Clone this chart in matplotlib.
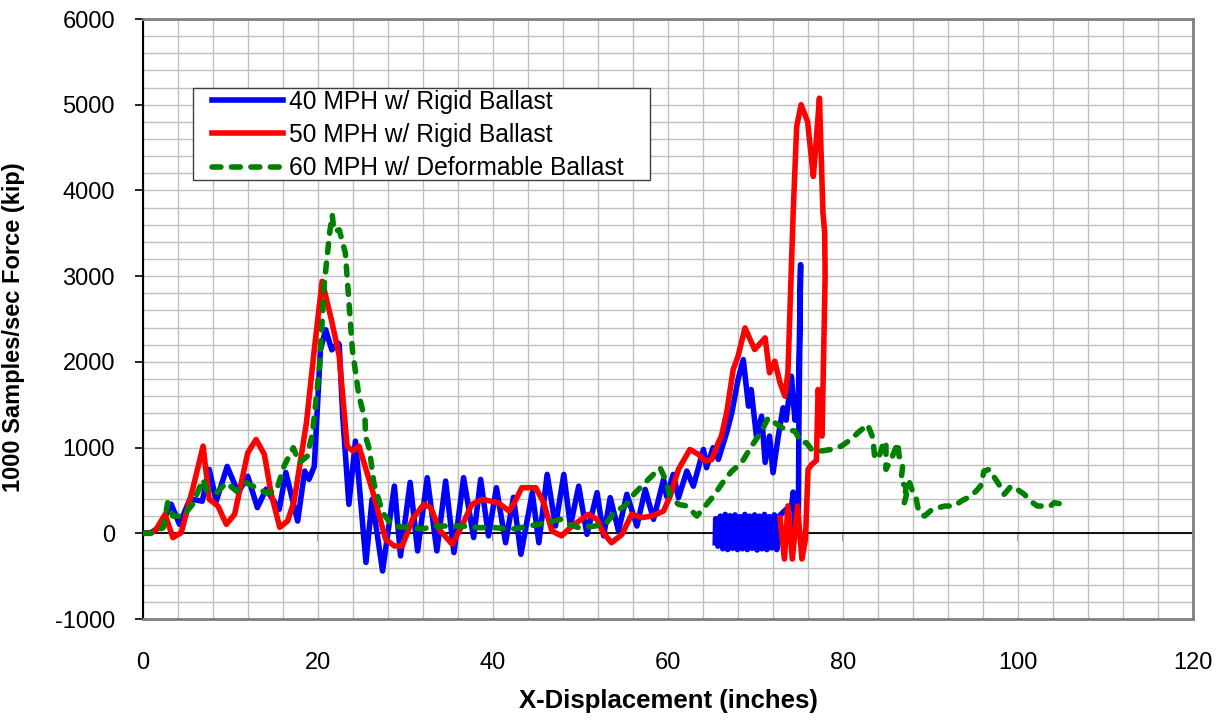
import matplotlib
matplotlib.use('Agg')
import matplotlib.pyplot as plt
from matplotlib.patches import Rectangle
import numpy as np

plt.rcParams['font.family'] = ['Liberation Sans', 'DejaVu Sans']
plt.rcParams['axes.unicode_minus'] = False

# 40 MPH w/ Rigid Ballast
x40 = [0, 1.0, 2.0, 3.25, 4.2, 5.4, 6.8, 7.6, 8.4, 9.65, 10.9, 12.0, 13.1, 14.1, 15.6, 16.35,
       17.7, 18.5, 19.0, 19.6, 20.3, 20.9, 21.6, 22.3, 22.45, 22.85, 23.55, 24.3, 25.5, 26.2,
       27.4, 28.75, 29.45, 30.55, 31.4, 32.5, 33.6, 34.6, 35.55, 36.65, 37.8, 38.6, 39.5,
       40.4, 41.45, 42.35, 43.2, 44.5, 45.25, 46.2, 47.15, 48.1, 48.85, 49.8, 50.75, 51.9,
       52.65, 53.4, 54.35, 55.3, 56.45, 57.4, 58.35, 59.5, 59.85, 60.6, 61.2, 62.15, 62.9,
       64.05, 64.4, 65.15, 65.75, 66.7, 67.3, 68.0, 68.6, 69.2, 69.5, 70.1, 70.7, 71.1, 71.6,
       72.0, 72.6, 73.15, 73.5, 74.1, 74.5, 74.9, 75.15, 74.95, 74.9, 74.5, 74.3, 74.1, 73.5,
       72.9,
       72.7, 72.42, 72.14, 71.86, 71.58, 71.3, 71.02, 70.74, 70.46, 70.18, 69.9, 69.62,
       69.34, 69.06, 68.78, 68.5, 68.22, 67.94, 67.66, 67.38, 67.1, 66.82, 66.54, 66.26,
       65.98, 65.7, 65.45, 65.4]
y40 = [0, 10, 80, 340, 105, 400, 375, 745, 376, 780, 475, 665, 300, 515, 280, 710,
       143, 726, 630, 780, 2140, 2375, 2140, 2220, 2200, 1366, 338, 1075, -340, 396,
       -440, 551, -264, 594, -206, 649, -206, 610, -225, 649, -50, 629, -30,
       532, -110, 420, -245, 474, -110, 687, 85, 687, 85, 550, -12, 474,
       -30, 416, 27, 455, 85, 512, 163, 629, 430, 687, 416, 726, 550,
       978, 765, 998, 862, 1173, 1410, 1794, 2027, 1483, 1677, 1134, 1366, 827, 1134,
       707, 1134, 1464, 1320, 1833, 1320, 1560, 3134, 1200, 250, 0, 480, 300, 280,
       220,
       200, -190, 215, -170, 195, -190, 220, -180, 200, -195, 215, -175,
       200, -190, 220, -180, 195, -190, 215, -175, 205, -190, 220, -180,
       200, -150, 170, -110]

# 50 MPH w/ Rigid Ballast
x50 = [0, 0.9, 1.5, 2.55, 3.45, 4.4, 5.7, 6.9, 7.6, 8.6, 9.55, 10.5, 11.1, 12.0, 12.95,
       13.9, 14.65, 15.65, 16.55, 17.3, 18.7, 19.6, 20.5, 21.55, 22.45, 23.35, 24.0, 24.7,
       26.2, 27.75, 28.75, 29.65, 30.8, 32.1, 32.9, 33.85, 35.35, 36.45, 37.6, 38.8, 40.6,
       41.85, 42.45, 43.3, 44.9, 45.8, 46.75, 47.85, 49.05, 50.9, 51.9, 52.6, 53.55, 54.75,
       55.85, 57.0, 58.15, 59.5, 60.25, 61.2, 62.5, 63.5, 64.2, 65.0, 65.75, 66.1, 66.7,
       67.45, 68.0, 68.8, 69.9, 71.1, 71.6, 72.2, 72.8, 73.35, 73.7, 74.3, 74.7, 75.2, 75.95,
       76.6, 76.85, 77.3, 77.7, 77.9, 77.95, 77.6, 77.15, 76.95, 76.4, 76.0, 75.7, 75.3,
       74.8, 74.2, 73.7, 73.3, 72.8]
y50 = [0, 0, 40, 221, -50, 8, 512, 1017, 396, 318, 105, 221, 512, 940, 1095,
       920, 474, 70, 143, 376, 1290, 2144, 2940, 2493, 2066, 1017, 960, 1017,
       512, -70, -148, -148, 163, 338, 300, 47, -128, 85, 338, 396, 357,
       260, 357, 532, 532, 357, 27, -30, 85, 221, 163, 8, -110, -12,
       221, 183, 201, 260, 435, 746, 978, 920, 843, 860, 1057, 1134, 1406,
       1910, 2066, 2396, 2144, 2280, 1872, 2008, 1755, 1600, 1875, 3740, 4745, 5000, 4803,
       4163, 4473, 5076, 3740, 3506, 3000, 1134, 1678, 850, 800, 746, -70, -300,
       320, -300, 320, -300, 180]

# 60 MPH w/ Deformable Ballast
x60 = [0, 0.9, 2.35, 2.85, 3.45, 4.6, 5.7, 6.9, 7.3, 8.45, 9.55, 10.7, 11.8, 12.95, 14.1,
       15.25, 16.15, 17.2, 17.9, 18.8, 19.4, 20.2, 20.75, 21.35, 21.65, 21.85, 22.45, 23.15,
       23.95, 24.7, 25.4, 25.45, 25.9, 26.4, 27.4, 28.55, 30.1, 32.0, 33.1, 36.5, 38.4,
       40.25, 42.15, 44.1, 46.3, 47.75, 48.65, 49.8, 51.7, 53.0, 54.0, 55.1, 56.1, 57.0,
       58.15, 59.1, 59.7, 60.25, 61.2, 62.15, 63.3, 64.25, 65.2, 66.5, 67.3, 68.4, 69.55,
       70.7, 71.45, 72.2, 73.35, 74.5, 75.25, 75.8, 76.4, 77.5, 78.65, 79.8, 80.9, 81.7,
       82.8, 83.4, 83.6, 84.0, 84.5, 84.9, 84.9, 85.5, 86.25, 86.4, 86.8, 86.6, 87.2, 87.0,
       87.6, 88.0, 88.3, 88.5, 88.7, 89.3, 90.2, 91.6, 92.7, 93.5, 94.6, 95.2, 95.7, 96.1,
       96.7, 97.3, 97.8, 98.4, 99.2, 99.9, 100.7, 101.4, 102.2, 103.0, 103.7, 104.1, 105.2]
y60 = [0, 0, 66, 357, 201, 200, 338, 629, 500, 474, 590, 493, 590, 532, 474,
       493, 784, 998, 823, 900, 1173, 1950, 2920, 3500, 3716, 3522, 3540, 3270,
       2144, 1600, 1328, 1130, 978, 590, 241, 85, 70, 50, 85, 85, 66,
       66, 47, 85, 124, 163, 105, 66, 85, 124, 260, 318, 455, 551,
       668, 765, 630, 435, 338, 318, 201, 318, 435, 629, 726, 823, 1017,
       1192, 1348, 1290, 1212, 1192, 1057, 1057, 978, 960, 978, 1017, 1095, 1173,
       1270, 1115, 900, 862, 1017, 1075, 746, 862, 1057, 900, 784, 590, 551, 357,
       590, 470, 435, 320, 240, 201, 280, 318, 318, 376, 435, 493, 551, 726,
       746, 649, 571, 455, 551, 512, 455, 376, 318, 318, 318, 357, 338]

labels = ['40 MPH w/ Rigid Ballast', '50 MPH w/ Rigid Ballast', '60 MPH w/ Deformable Ballast']

fig = plt.figure(figsize=(12.27, 7.28), dpi=100)
ax = fig.add_axes([0.1163, 0.1497, 0.8562, 0.8242])

ax.axhline(0, color='black', lw=1.3, zorder=1.5)
ax.plot(x40, y40, color='#0000FF', lw=4.0, solid_joinstyle='round', label=labels[0], zorder=3)
ax.plot(x50, y50, color='#FF0000', lw=4.0, solid_joinstyle='round', label=labels[1], zorder=4)
ax.plot(x60, y60, color='#008000', lw=4.0, linestyle=(0, (1.6, 1.9)),
        dash_capstyle='round', label=labels[2], zorder=4.5)

ax.set_xlim(0, 120)
ax.set_ylim(-1000, 6000)
ax.set_xticks(range(0, 121, 20))
ax.set_yticks(range(-1000, 6001, 1000))
ax.set_xticks(np.arange(0, 121, 4), minor=True)
ax.set_yticks(np.arange(-1000, 6001, 200), minor=True)
ax.grid(which='both', color='#C0C0C0', lw=1.0, zorder=0)
ax.set_axisbelow(True)

ax.tick_params(axis='x', which='both', length=0, pad=24, labelsize=17)
ax.tick_params(axis='y', which='major', length=6, width=1.2, direction='out', pad=14, labelsize=17)
ax.tick_params(axis='y', which='minor', length=0)

for s in ['top', 'right', 'bottom']:
    ax.spines[s].set_color('#808080')
    ax.spines[s].set_linewidth(2)
ax.spines['left'].set_color('black')
ax.spines['left'].set_linewidth(1.5)

# x axis crossing at zero with its tick marks
sec = ax.secondary_xaxis(1 / 7)
sec.set_xticks(range(0, 121, 20))
sec.tick_params(axis='x', length=6, width=1.2, color='#808080', direction='out',
                labelbottom=False, labeltop=False)
for s in sec.spines.values():
    s.set_visible(False)

ax.set_xlabel('X-Displacement (inches)', fontsize=18.5, fontweight='bold', va='top')
ax.xaxis.set_label_coords(0.5, -0.117)
ax.set_ylabel('1000 Samples/sec Force (kip)', fontsize=17, fontweight='bold')
ax.yaxis.set_label_coords(-0.112, 0.487)

# legend box drawn separately so the inner padding matches
box = Rectangle((0.1573, 0.7527), 0.3724, 0.1264, transform=fig.transFigure,
                facecolor='white', edgecolor='#404040', lw=1.0, zorder=6)
ax.add_patch(box)
box.set_clip_on(False)

leg = ax.legend(loc='upper left', bbox_to_anchor=(0.066, 0.8817), fontsize=17.7, frameon=False,
                handlelength=2.9, handletextpad=0.25, labelspacing=0.37, borderpad=0,
                borderaxespad=0)
leg.set_zorder(7)

fig.savefig('out.png', dpi=100)
